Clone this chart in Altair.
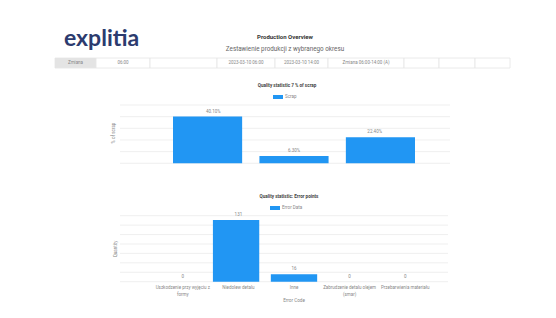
import altair as alt
import pandas as pd

# ---------------- data ----------------
header_texts = ["Zmiana", "06:00", "", "2023-03-10 06:00", "2023-03-10 14:00",
                "Zmiana 06:00-14:00 (A)", "", "", ""]
header_kinds = ["btn", "cell", "cell", "cell", "cell", "cell", "cell", "cell", "cell"]

scrap_categories = ["Zmiana A", "Zmiana B", "Zmiana C"]
scrap_values = [40.1, 6.3, 22.4]
scrap_labels = ["40.10%", "6.30%", "22.40%"]
scrap_ticks = [0, 10, 20, 30, 40, 50]

error_categories = ["Uszkodzenie przy wyjęciu z\nformy", "Niedolew detalu", "Inne",
                    "Zabrudzenie detalu olejem\n(smar)", "Przebarwienia materiału"]
error_values = [0, 131, 16, 0, 0]
error_ticks = [0, 20, 40, 60, 80, 100, 120, 140]

# ---------------- layout (chart pixel coords) ----------------
W, H = 540, 302
FONT = "Roboto"
BLUE = "#2196F3"
header_edges = [47, 88, 142, 209, 267, 320, 396, 431, 467, 502]

px = alt.Scale(domain=[0, W], range=[0, W], zero=False, nice=False)

hdr = pd.DataFrame({
    "x0": header_edges[:-1],
    "x1": header_edges[1:],
    "text": header_texts,
    "kind": header_kinds,
})

layers = []

def txt(t, x, y, size, color="#555", weight="normal", align="center", angle=0, font=FONT):
    kw = dict(fontSize=size, color=color, fontWeight=weight, align=align, font=font, baseline="middle")
    if angle:
        kw["angle"] = angle
    return alt.Chart(pd.DataFrame({"t": [t]})).mark_text(**kw).encode(
        x=alt.value(x), y=alt.value(y), text="t:N")

# logo + titles
layers.append(alt.Chart(pd.DataFrame({"t": ["explitia"]})).mark_text(
    fontSize=23, color="#2c3b6e", fontWeight="bold", align="left", baseline="alphabetic", font="Lato"
).encode(x=alt.value(56), y=alt.value(38), text="t:N"))
layers.append(txt("Production Overview", 277, 29, 6, "#333", "bold"))
layers.append(txt("Zestawienie produkcji z wybranego okresu", 277, 41, 6.3, "#666"))

# header row
layers.append(alt.Chart(hdr).mark_rect(stroke="#e4e4e4", strokeWidth=0.8).encode(
    x=alt.X("x0:Q", scale=px, axis=None), x2="x1:Q",
    y=alt.value(50), y2=alt.value(60),
    fill=alt.Color("kind:N", scale=alt.Scale(domain=["btn", "cell"], range=["#e4e4e4", "#ffffff"]), legend=None),
))
layers.append(alt.Chart(hdr).transform_calculate(xc="(datum.x0 + datum.x1) / 2").mark_text(
    fontSize=4.5, color="#888", font=FONT, baseline="middle"
).encode(x=alt.X("xc:Q", scale=px, axis=None), y=alt.value(55), text="text:N"))

# ---------------- chart 1: % of scrap ----------------
s_df = pd.DataFrame({"cat": scrap_categories, "val": scrap_values, "lab": scrap_labels})
sx = alt.Scale(domain=scrap_categories, range=[165, 407], paddingInner=0.2, paddingOuter=0)
sy = alt.Scale(domain=[0, 50], range=[155.3, 97], zero=False, nice=False)

layers.append(alt.Chart(pd.DataFrame({"v": scrap_ticks})).mark_rule(color="#ebebeb", strokeWidth=0.8).encode(
    y=alt.Y("v:Q", scale=sy, axis=None), x=alt.value(112), x2=alt.value(442)))
layers.append(alt.Chart(s_df).mark_bar(color=BLUE).encode(
    x=alt.X("cat:N", scale=sx, axis=None, sort=None),
    y=alt.Y("val:Q", scale=sy, axis=None)))
layers.append(alt.Chart(s_df).mark_text(fontSize=4.5, color="#888", dy=-5, font=FONT).encode(
    x=alt.X("cat:N", scale=sx, axis=None, sort=None),
    y=alt.Y("val:Q", scale=sy, axis=None), text="lab:N"))
layers.append(txt("Quality statistic 7 % of scrap", 279, 78, 4.6, "#444", "bold"))
layers.append(alt.Chart(pd.DataFrame({"a": [0]})).mark_rect(color=BLUE).encode(
    x=alt.value(265), x2=alt.value(275), y=alt.value(87), y2=alt.value(91)))
layers.append(txt("Scrap", 277, 89, 4.5, "#888", align="left"))
layers.append(txt("% of scrap", 106, 125, 4.5, "#888", angle=270))

# ---------------- chart 2: error points ----------------
e_df = pd.DataFrame({"cat": error_categories, "val": error_values})
ex = alt.Scale(domain=error_categories, range=[147, 425], paddingInner=0.2, paddingOuter=0)
ey = alt.Scale(domain=[0, 140], range=[273.7, 207.7], zero=False, nice=False)

layers.append(alt.Chart(pd.DataFrame({"v": error_ticks})).mark_rule(color="#ebebeb", strokeWidth=0.8).encode(
    y=alt.Y("v:Q", scale=ey, axis=None), x=alt.value(112), x2=alt.value(440)))
layers.append(alt.Chart(e_df).mark_bar(color=BLUE).encode(
    x=alt.X("cat:N", scale=ex, axis=None, sort=None),
    y=alt.Y("val:Q", scale=ey, axis=None)))
layers.append(alt.Chart(e_df).mark_text(fontSize=4.5, color="#888", dy=-5, font=FONT).encode(
    x=alt.X("cat:N", scale=ex, axis=None, sort=None),
    y=alt.Y("val:Q", scale=ey, axis=None), text="val:Q"))
layers.append(alt.Chart(e_df).mark_text(fontSize=4.5, color="#888", baseline="top", lineBreak="\n",
                                        lineHeight=6.5, font=FONT).encode(
    x=alt.X("cat:N", scale=ex, axis=None, sort=None),
    y=alt.value(277), text="cat:N"))
layers.append(txt("Quality statistic: Error points", 281, 189, 4.6, "#444", "bold"))
layers.append(alt.Chart(pd.DataFrame({"a": [0]})).mark_rect(color=BLUE).encode(
    x=alt.value(262), x2=alt.value(272), y=alt.value(198), y2=alt.value(202)))
layers.append(txt("Error Data", 274, 200, 4.5, "#888", align="left"))
layers.append(txt("Quantity", 108, 241, 4.5, "#888", angle=270))
layers.append(txt("Error Code", 286, 293, 4.6, "#888"))

chart = alt.layer(*layers).resolve_scale(
    x="independent", y="independent", color="independent"
).properties(
    width=W, height=H, autosize=alt.AutoSizeParams(type="none"), padding=0, background="white"
).configure_view(stroke=None)

chart.save("out.html", embed_options={"renderer": "svg", "actions": False})
